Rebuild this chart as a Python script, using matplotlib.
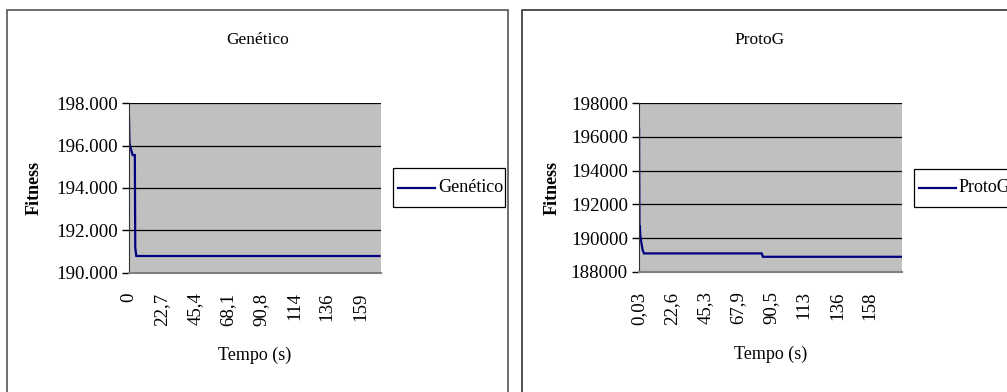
import matplotlib
matplotlib.use("Agg")
import matplotlib.pyplot as plt
from matplotlib.patches import Rectangle
from matplotlib.lines import Line2D

plt.rcParams['font.family'] = ['Liberation Serif', 'DejaVu Serif']

# Genetico: tempo (s) x fitness
gen_t = [0, 0.3, 0.6, 1.5, 2.5, 4.0, 4.3, 5.0, 172]
gen_fit = [197300, 196200, 196000, 195800, 195550, 195550, 191200, 190800, 190800]
gen_xticks = [0, 22.7, 45.4, 68.1, 90.8, 114, 136, 159]
gen_xlabels = ['0', '22,7', '45,4', '68,1', '90,8', '114', '136', '159']
gen_yticks = [190000, 192000, 194000, 196000, 198000]
gen_ylabels = ['190.000', '192.000', '194.000', '196.000', '198.000']

# ProtoG
pro_t = [0.03, 0.3, 0.6, 1.0, 1.5, 2.5, 3.4, 84.0, 84.8, 180]
pro_fit = [196500, 190700, 190700, 190050, 189800, 189300, 189100, 189100, 188900, 188900]
pro_xticks = [0.03, 22.6, 45.3, 67.9, 90.5, 113, 136, 158]
pro_xlabels = ['0,03', '22,6', '45,3', '67,9', '90,5', '113', '136', '158']
pro_yticks = [188000, 190000, 192000, 194000, 196000, 198000]
pro_ylabels = ['188000', '190000', '192000', '194000', '196000', '198000']

W, H = 1007, 392
fig = plt.figure(figsize=(W / 100, H / 100), dpi=100)
LINE_COLOR = '#000080'

# frames
fig.patches.append(Rectangle((7 / W, -0.1), 501 / W, 1.1 - 10 / H, transform=fig.transFigure,
                             fill=False, ec='#555555', lw=1.2))
fig.patches.append(Rectangle((522 / W, -0.1), 600 / W, 1.1 - 10 / H, transform=fig.transFigure,
                             fill=False, ec='#333333', lw=1.2))


def legend_box(x0, y0, w, h, label):
    # legend drawn in figure pixels (top-left origin)
    fig.patches.append(Rectangle((x0 / W, 1 - (y0 + h) / H), w / W, h / H,
                                 transform=fig.transFigure, fill=True, fc='white',
                                 ec='black', lw=0.9))
    ym = 1 - (y0 + h / 2) / H
    fig.lines.append(Line2D([(x0 + 5) / W, (x0 + 42) / W], [ym, ym], transform=fig.transFigure,
                            color=LINE_COLOR, lw=1.6))
    fig.text((x0 + 45) / W, ym, label, fontsize=13, ha='left', va='center')


def make_chart(rect, t, fit, xt, xl, yt, yl, xlim, title, tx, ypad):
    ax = fig.add_axes(rect)
    ax.set_facecolor('#C0C0C0')
    ax.plot(t, fit, color=LINE_COLOR, lw=1.6, solid_joinstyle='miter')
    ax.set_xlim(*xlim)
    ax.set_ylim(yt[0], yt[-1])
    ax.set_yticks(yt)
    ax.set_yticklabels(yl, fontsize=13.6)
    ax.set_xticks(xt)
    ax.set_xticklabels(xl, fontsize=13.6, rotation=90)
    ax.tick_params(axis='x', length=0, pad=14)
    ax.tick_params(axis='y', length=5, width=1, pad=3)
    ax.grid(axis='y', color='black', lw=0.9)
    ax.set_axisbelow(True)
    ax.spines['top'].set_visible(False)
    ax.spines['right'].set_visible(False)
    ax.spines['bottom'].set_color('#808080')
    ax.spines['bottom'].set_linewidth(1.5)
    ax.spines['left'].set_color('#333333')
    ax.set_ylabel('Fitness', fontsize=13, fontweight='bold', labelpad=ypad)
    ax.set_xlabel('Tempo (s)', fontsize=13, labelpad=15)
    fig.text(tx / W, 1 - 40 / H, title, fontsize=12.5, ha='center', va='center')
    return ax


make_chart([129 / W, 1 - 273 / H, 252 / W, 170 / H], gen_t, gen_fit, gen_xticks, gen_xlabels,
           gen_yticks, gen_ylabels, (0, 173), 'Genético', 258, 10)
make_chart([639 / W, 1 - 272 / H, 263 / W, 169 / H], pro_t, pro_fit, pro_xticks, pro_xlabels,
           pro_yticks, pro_ylabels, (0, 180), 'ProtoG', 760, 7)

legend_box(393, 168, 112, 39, 'Genético')
legend_box(914, 169, 112, 38, 'ProtoG')

fig.savefig('out.png', dpi=100)
